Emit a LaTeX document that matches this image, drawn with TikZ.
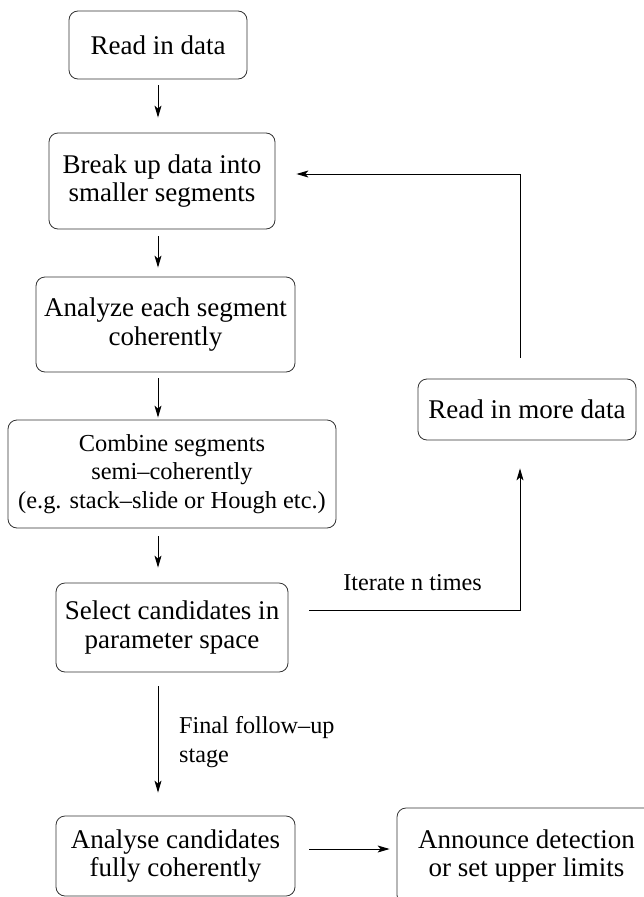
\documentclass[tikz,border=0pt]{standalone}
\usepackage{fontspec}
\setmainfont{Liberation Serif}
\usetikzlibrary{arrows.meta,calc}
\begin{document}
\begin{tikzpicture}[x=1pt,y=-1pt,
  box/.style={draw=black!80, line width=0.8pt, rounded corners=9pt, inner sep=0pt, align=center, font=\fontsize{27}{28.5}\selectfont},
  smallbox/.style={box, font=\fontsize{24.4}{28.5}\selectfont},
  arr/.style={line width=1pt, -{Stealth[length=12pt,width=7pt,inset=3pt]}},
  lbl/.style={inner sep=0pt, font=\fontsize{24.2}{29}\selectfont}]
\useasboundingbox (0,0) rectangle (644,897);
\clip (0,0) rectangle (644,897);
\node[box, minimum width=178, minimum height=68] (b1) at (158,45) {Read in data};
\node[box, minimum width=226, minimum height=96] (b2) at (162,181) {Break up data into\\smaller segments};
\node[box, minimum width=259, minimum height=95] (b3) at (165.5,324.5) {Analyze each segment\\coherently};
\node[smallbox, minimum width=328, minimum height=108] (b4) at (172,474) {Combine segments\\semi--coherently\\(e.g. stack--slide or Hough etc.)};
\node[box, minimum width=232, minimum height=89] (b5) at (172,627.5) {Select candidates in\\parameter space};
\node[box, minimum width=239, minimum height=80] (b6) at (175.5,856) {Analyse candidates\\fully coherently};
\node[box, minimum width=259, minimum height=96] (b7) at (526.5,856) {Announce detection\\or set upper limits};
\node[box, minimum width=218, minimum height=61] (more) at (527,409.5) {Read in more data};
\node[lbl, anchor=base] (iter) at (412.5,590) {Iterate n times};
\node[lbl, anchor=north west, align=left] (final) at (179,716) {Final follow--up\\stage};
\coordinate (c1) at (520,610);
\coordinate (c2) at (520,174);
\draw[arr, shorten <=6pt, shorten >=15pt] (b1.south) -- (b2.north -| b1.south);
\draw[arr, shorten <=7pt, shorten >=9pt] (b2.south -| b1.south) -- (b3.north -| b1.south);
\draw[arr, shorten <=6pt, shorten >=2pt] (b3.south -| b1.south) -- (b4.north -| b1.south);
\draw[arr, shorten <=8pt, shorten >=15pt] (b4.south -| b1.south) -- (b5.north -| b1.south);
\draw[arr, shorten <=14pt, shorten >=23pt] (b5.south -| b1.south) -- (b6.north -| b1.south);
\draw[arr, shorten <=14pt, shorten >=7pt] ([yshift=7pt]b6.east) -- ([yshift=7pt]b6.east -| b7.west);
\draw[arr, shorten <=21pt, shorten >=28pt] (c1 -| b5.east) -- (c1) -- (more.south -| c1);
\draw[arr, shorten <=21pt, shorten >=21pt] (more.north -| c2) -- (c2) -- (c2 -| b2.east);
\end{tikzpicture}
\end{document}
